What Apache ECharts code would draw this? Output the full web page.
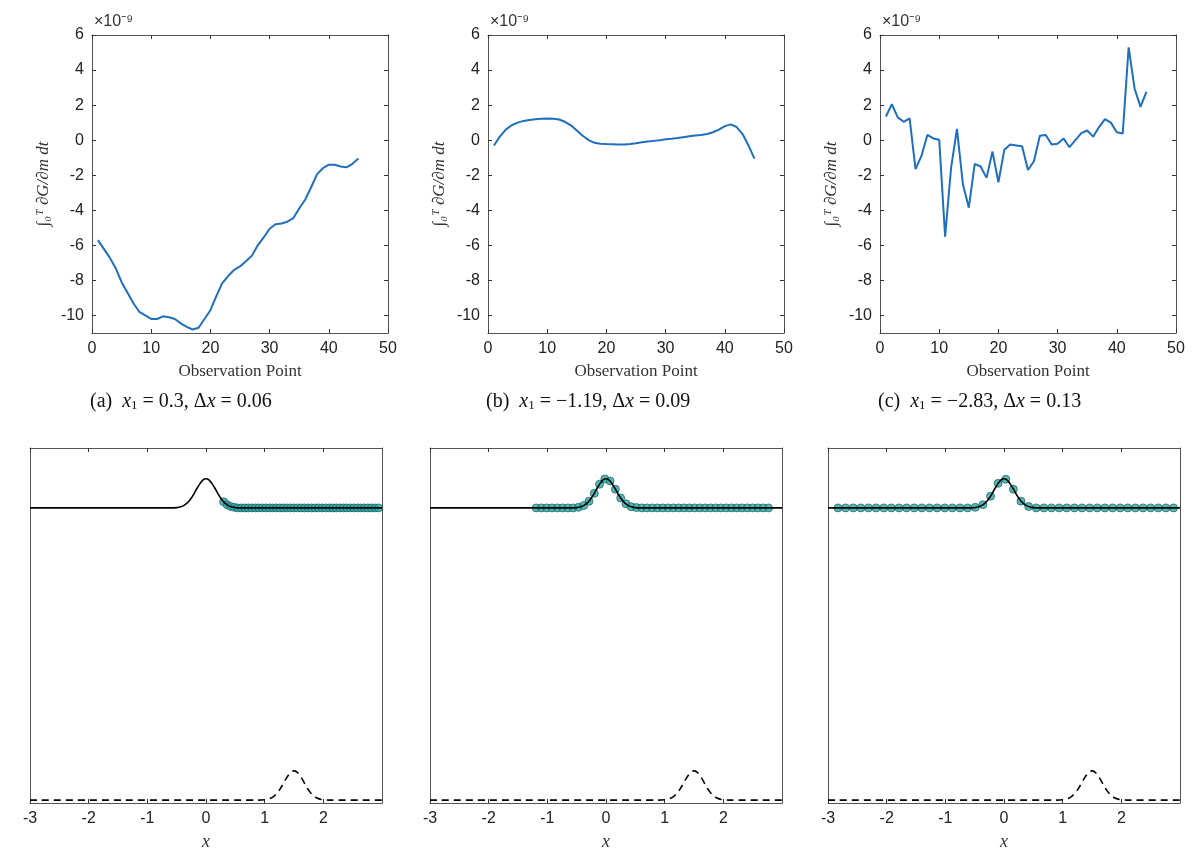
<!DOCTYPE html>
<html>
<head>
<meta charset="utf-8">
<script src="https://cdn.jsdelivr.net/npm/echarts@6/dist/echarts.min.js"></script>
<style>html,body{margin:0;background:#fff}#c{width:1200px;height:864px}</style>
</head>
<body>
<div id="c"></div>
<script>
// top row: integrated sensitivity per observation point (x 1e-9)
var obsIndex = [];
for (var i = 1; i <= 45; i++) obsIndex.push(i);
var gradA = [-5.7,-6.2,-6.7,-7.3,-8.1,-8.7,-9.3,-9.8,-10.0,-10.2,-10.2,-10.05,-10.1,-10.2,-10.45,-10.65,-10.8,-10.7,-10.2,-9.7,-8.9,-8.15,-7.75,-7.4,-7.2,-6.9,-6.6,-6.0,-5.55,-5.05,-4.8,-4.75,-4.65,-4.45,-3.9,-3.4,-2.7,-1.95,-1.6,-1.4,-1.4,-1.5,-1.55,-1.35,-1.05];
var gradB = [-0.3,0.2,0.6,0.85,1.0,1.1,1.15,1.2,1.22,1.23,1.22,1.18,1.05,0.85,0.55,0.25,0.0,-0.15,-0.2,-0.22,-0.23,-0.25,-0.25,-0.22,-0.18,-0.12,-0.08,-0.04,0.0,0.05,0.08,0.12,0.17,0.22,0.27,0.3,0.35,0.45,0.6,0.8,0.9,0.75,0.35,-0.3,-1.05];
var gradC = [1.35,2.05,1.3,1.05,1.25,-1.65,-0.9,0.3,0.1,0.03,-5.5,-1.6,0.65,-2.5,-3.85,-1.35,-1.5,-2.15,-0.65,-2.4,-0.55,-0.25,-0.3,-0.35,-1.7,-1.2,0.25,0.3,-0.25,-0.2,0.1,-0.4,0.0,0.4,0.55,0.2,0.75,1.2,1.0,0.45,0.38,5.3,2.95,1.9,2.75];
var yTicks = [-10,-8,-6,-4,-2,0,2,4,6];
var xTicksTop = [0,10,20,30,40,50];

// bottom row: model profile, observation points, source
var curveX = [-3,-0.6,-0.5,-0.45,-0.4,-0.35,-0.3,-0.25,-0.2,-0.15,-0.1,-0.05,0,0.05,0.1,0.15,0.2,0.25,0.3,0.35,0.4,0.45,0.5,0.6,3];
var curveY = [1,1,1.001,1.003,1.006,1.012,1.021,1.034,1.05,1.068,1.084,1.096,1.1,1.096,1.084,1.068,1.05,1.034,1.021,1.012,1.006,1.003,1.001,1,1];
var sourceX = [-3,0.9,1.0,1.05,1.1,1.15,1.2,1.25,1.3,1.35,1.4,1.45,1.5,1.55,1.6,1.65,1.7,1.75,1.8,1.85,1.9,1.95,2.0,2.1,3];
var sourceY = [0,0,0.001,0.003,0.006,0.012,0.021,0.034,0.05,0.068,0.084,0.096,0.1,0.096,0.084,0.068,0.05,0.034,0.021,0.012,0.006,0.003,0.001,0,0];
var ptsAX = [0.30,0.36,0.42,0.48,0.54,0.60,0.66,0.72,0.78,0.84,0.90,0.96,1.02,1.08,1.14,1.20,1.26,1.32,1.38,1.44,1.50,1.56,1.62,1.68,1.74,1.80,1.86,1.92,1.98,2.04,2.10,2.16,2.22,2.28,2.34,2.40,2.46,2.52,2.58,2.64,2.70,2.76,2.82,2.88,2.94];
var ptsAY = [1.021,1.011,1.005,1.002,1,1,1,1,1,1,1,1,1,1,1,1,1,1,1,1,1,1,1,1,1,1,1,1,1,1,1,1,1,1,1,1,1,1,1,1,1,1,1,1,1];
var ptsBX = [-1.19,-1.10,-1.01,-0.92,-0.83,-0.74,-0.65,-0.56,-0.47,-0.38,-0.29,-0.20,-0.11,-0.02,0.07,0.16,0.25,0.34,0.43,0.52,0.61,0.70,0.79,0.88,0.97,1.06,1.15,1.24,1.33,1.42,1.51,1.60,1.69,1.78,1.87,1.96,2.05,2.14,2.23,2.32,2.41,2.50,2.59,2.68,2.77];
var ptsBY = [1,1,1,1,1,1,1,1,1.002,1.008,1.023,1.05,1.081,1.099,1.092,1.064,1.034,1.014,1.004,1.001,1,1,1,1,1,1,1,1,1,1,1,1,1,1,1,1,1,1,1,1,1,1,1,1,1];
var ptsCX = [-2.83,-2.70,-2.57,-2.44,-2.31,-2.18,-2.05,-1.92,-1.79,-1.66,-1.53,-1.40,-1.27,-1.14,-1.01,-0.88,-0.75,-0.62,-0.49,-0.36,-0.23,-0.10,0.03,0.16,0.29,0.42,0.55,0.68,0.81,0.94,1.07,1.20,1.33,1.46,1.59,1.72,1.85,1.98,2.11,2.24,2.37,2.50,2.63,2.76,2.89];
var ptsCY = [1,1,1,1,1,1,1,1,1,1,1,1,1,1,1,1,1,1,1.002,1.011,1.04,1.084,1.098,1.064,1.023,1.005,1,1,1,1,1,1,1,1,1,1,1,1,1,1,1,1,1,1,1];
var xTicksBottom = [-3,-2,-1,0,1,2];

var captions = [
  ['0.3', '0.06'], ['\u22121.19', '0.09'], ['\u22122.83', '0.13']
];
var letters = ['a', 'b', 'c'];

function zip(xs, ys) { return xs.map(function (x, i) { return [x, ys[i]]; }); }

var myChart = echarts.init(document.getElementById('c'));
var sans = 'Liberation Sans';
var serif = 'Liberation Serif';
var grids = [], xAxes = [], yAxes = [], series = [], graphics = [];
var topLeft = [92, 488, 880], topW = 296;
var botLeft = [30, 430, 828], botW = 352;
var grads = [gradA, gradB, gradC];
var pts = [[ptsAX, ptsAY], [ptsBX, ptsBY], [ptsCX, ptsCY]];

function addAxes(gi, xopt, yopt, xticks, yticks, showLabels) {
  var tick = { inside: true, length: 4, lineStyle: { color: '#333' } };
  var line = { show: true, onZero: false, lineStyle: { color: '#555' } };
  xAxes.push(Object.assign({ gridIndex: gi, type: 'value', position: 'bottom', axisLine: line,
    splitLine: { show: false },
    axisTick: Object.assign({ customValues: xticks }, tick),
    axisLabel: { customValues: xticks, color: '#222', fontFamily: sans, fontSize: 16, margin: 8 } }, xopt));
  xAxes.push({ gridIndex: gi, type: 'value', position: 'top', min: xopt.min, max: xopt.max, axisLine: line,
    splitLine: { show: false },
    axisTick: Object.assign({ customValues: xticks }, tick),
    axisLabel: { show: false } });
  yAxes.push(Object.assign({ gridIndex: gi, type: 'value', position: 'left', axisLine: line,
    splitLine: { show: false },
    axisTick: Object.assign({ show: showLabels, customValues: yticks }, tick),
    axisLabel: { show: showLabels, customValues: yticks, color: '#222', fontFamily: sans, fontSize: 16, margin: 8 } }, yopt));
  yAxes.push({ gridIndex: gi, type: 'value', position: 'right', min: yopt.min, max: yopt.max, axisLine: line,
    splitLine: { show: false },
    axisTick: Object.assign({ show: showLabels, customValues: yticks }, tick),
    axisLabel: { show: false } });
}

for (var p = 0; p < 3; p++) {
  // top panel
  var gi = grids.length;
  grids.push({ left: topLeft[p], top: 35, width: topW, height: 298 });
  addAxes(gi, { min: 0, max: 50, name: 'Observation Point', nameLocation: 'middle', nameGap: 30,
      nameTextStyle: { fontFamily: serif, fontSize: 17, color: '#333' } },
    { min: -11, max: 6, name: '\u222B\u2080\u1D40 \u2202G/\u2202m dt', nameLocation: 'middle', nameGap: 40,
      nameTextStyle: { fontFamily: serif, fontStyle: 'italic', fontSize: 17, color: '#333' } },
    xTicksTop, yTicks, true);
  series.push({ type: 'line', xAxisIndex: gi * 2, yAxisIndex: gi * 2, data: zip(obsIndex, grads[p]),
    showSymbol: false, lineStyle: { color: '#1f6fbf', width: 2 } });
  graphics.push({ type: 'text', left: topLeft[p] + 2, top: 14,
    style: { text: '\u00D710\u207B\u2079', font: '16px ' + sans, fill: '#333' } });
  graphics.push({ type: 'text', left: topLeft[p] + topW / 2 - 150, top: 392,
    style: { width: 300, align: 'center', verticalAlign: 'middle',
      text: '(' + letters[p] + ')  {i|x}{s|1} = ' + captions[p][0] + ', \u0394{i|x} = ' + captions[p][1],
      font: '20px ' + serif, fill: '#111',
      rich: { i: { fontFamily: serif, fontStyle: 'italic', fontSize: 20 },
              s: { fontFamily: serif, fontSize: 13, verticalAlign: 'bottom', padding: [8, 0, 0, 0] } } } });

  // bottom panel
  gi = grids.length;
  grids.push({ left: botLeft[p], top: 448, width: botW, height: 355 });
  addAxes(gi, { min: -3, max: 3, name: 'x', nameLocation: 'middle', nameGap: 30,
      nameTextStyle: { fontFamily: serif, fontStyle: 'italic', fontSize: 18, color: '#333' } },
    { min: -0.01, max: 1.205 }, xTicksBottom, [], false);
  series.push({ type: 'line', xAxisIndex: gi * 2, yAxisIndex: gi * 2, data: zip(curveX, curveY),
    showSymbol: false, smooth: 0.3, lineStyle: { color: '#000', width: 1.6 } });
  series.push({ type: 'line', xAxisIndex: gi * 2, yAxisIndex: gi * 2, data: zip(sourceX, sourceY),
    showSymbol: false, smooth: 0.3, lineStyle: { color: '#000', width: 1.6, type: [7, 5] } });
  series.push({ type: 'scatter', xAxisIndex: gi * 2, yAxisIndex: gi * 2, data: zip(pts[p][0], pts[p][1]),
    symbolSize: 8, itemStyle: { color: '#26a9a6', borderColor: '#1b4f4e', borderWidth: 0.8 } });
}

var option = {
  backgroundColor: '#fff',
  animation: false,
  grid: grids,
  xAxis: xAxes,
  yAxis: yAxes,
  series: series,
  graphic: graphics
};
myChart.setOption(option);
window.addEventListener('resize', function () { myChart.resize(); });
</script>
</body>
</html>
